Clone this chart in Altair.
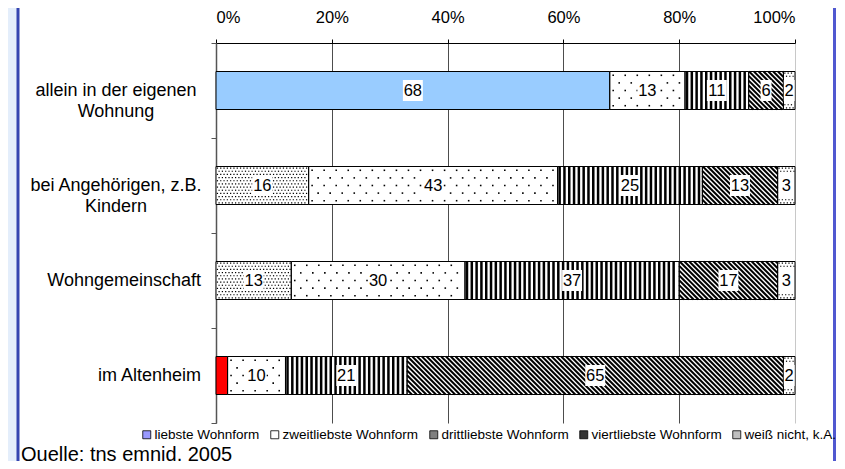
import altair as alt
import pandas as pd

# ---------------- data ----------------
categories = ["allein in der eigenen Wohnung", "bei Angehörigen, z.B. Kindern",
              "Wohngemeinschaft", "im Altenheim"]
category_labels = ["allein in der eigenen\nWohnung", "bei Angehörigen, z.B.\nKindern",
                   "Wohngemeinschaft", "im Altenheim"]
series = ["liebste Wohnform", "zweitliebste Wohnform", "drittliebste Wohnform",
          "viertliebste Wohnform", "weiß nicht, k.A."]
liebste = [68, 16, 13, 2]
zweitliebste = [13, 43, 30, 10]
drittliebste = [11, 25, 37, 21]
viertliebste = [6, 13, 17, 65]
weiss_nicht = [2, 3, 3, 2]
x_ticks = [0, 20, 40, 60, 80, 100]
y_ticks = [-0.5, 0.5, 1.5, 2.5, 3.5]
source = "Quelle: tns emnid, 2005"

# ---------------- styles ----------------
FONT = "Liberation Sans"
W, H = 579, 380
series_pattern = ["solid", "sparse", "vstripe", "diag", "edge"]
first_series_style = {0: ("solid", "#99CCFF"), 1: ("dense", "white"),
                      2: ("dense", "white"), 3: ("solid", "#FF0000")}
legend_colors = ["#9999FF", "#FFFFFF", "#7F7F7F", "#333333", "#BFBFBF"]
hidden_labels = {(0, 3)}
half_bar = 0.2
box2 = "M-0.95,-1L0.95,-1L0.95,1L-0.95,1Z"
box1 = "M-0.52,-1L0.52,-1L0.52,1L-0.52,1Z"

values = [liebste, zweitliebste, drittliebste, viertliebste, weiss_nicht]
recs = []
for r, cat in enumerate(categories):
    cum = 0
    for s, name in enumerate(series):
        v = values[s][r]
        pat, fill = series_pattern[s], "white"
        if s == 0:
            pat, fill = first_series_style[r]
        recs.append(dict(row=r, cat=cat, series=name, sidx=s, value=v,
                         start=cum, end=cum + v, mid=cum + v / 2,
                         pattern=pat, fillc=fill,
                         y0=r - half_bar, y1=r + half_bar,
                         showlab=(s, r) not in hidden_labels,
                         shp=box2 if v >= 10 else box1))
        cum += v
df = pd.DataFrame(recs)

ydf = pd.DataFrame({"row": list(range(len(categories))), "lab": category_labels})
ydf["multi"] = ydf["lab"].str.contains("\n")

xsc = alt.Scale(domain=[0, 100], nice=False, zero=True)
ysc = alt.Scale(domain=[-0.5, 3.5], reverse=True, nice=False, zero=False)

# diagonal run (in x units) for a 45 degree line across the bar height
h = (2 * half_bar * H / 4) / (W / 100)
STEP = 0.83

xaxis = alt.Axis(orient="top", values=x_ticks, labelExpr="datum.value + '%'",
                 grid=True,
                 gridColor={"condition": {"test": "datum.value == 100", "value": "#C8C8C8"},
                            "value": "#4D4D4D"},
                 domainColor="black", tickColor="black", tickSize=4,
                 labelFont=FONT, labelFontSize=16.5, labelColor="black",
                 labelPadding=14, title=None)
yaxis = alt.Axis(orient="left", values=y_ticks, labels=False, grid=False,
                 tickSize=5, tickColor="#555555", domainColor="#555555",
                 domainWidth=1.5, title=None)


def X(field):
    return alt.X(field, scale=xsc, axis=xaxis)


def Y(field):
    return alt.Y(field, scale=ysc, axis=yaxis)


base = alt.Chart(df)
one = pd.DataFrame({"a": [0]})

strip = alt.Chart(one).mark_rect(fill="#E4EEFB").encode(
    x=alt.value(-208), x2=alt.value(-199), y=alt.value(-35), y2=alt.value(420))
border_l = alt.Chart(one).mark_rule(color="#3545B0", strokeWidth=3).encode(
    x=alt.value(-198), y=alt.value(-35), y2=alt.value(420))
border_r = alt.Chart(one).mark_rule(color="#5058D0", strokeWidth=3).encode(
    x=alt.value(618.5), y=alt.value(-35), y2=alt.value(420))

fills = base.mark_rect().encode(
    x=X("start:Q"), x2="end:Q", y=Y("y0:Q"), y2="y1:Q",
    fill=alt.Fill("fillc:N", scale=None))

vstr = base.transform_filter("datum.pattern == 'vstripe'").transform_calculate(
    xs=f"sequence(datum.start + 0.35, datum.end - 0.2, {STEP})"
).transform_flatten(["xs"]).mark_rule(color="black", strokeWidth=2.5).encode(
    x=X("xs:Q"), y=Y("y0:Q"), y2="y1:Q")

diag = base.transform_filter("datum.pattern == 'diag'").transform_calculate(
    x0=f"sequence(datum.start - {h}, datum.end, {STEP})"
).transform_flatten(["x0"]).transform_calculate(
    xa="max(datum.x0, datum.start)", xb=f"min(datum.x0 + {h}, datum.end)"
).transform_filter("datum.xb > datum.xa + 0.05").transform_calculate(
    ya=f"datum.y0 + (datum.xa - datum.x0) / {h} * {2 * half_bar}",
    yb=f"datum.y0 + (datum.xb - datum.x0) / {h} * {2 * half_bar}"
).mark_rule(color="black", strokeWidth=2).encode(
    x=X("xa:Q"), x2="xb:Q", y=Y("ya:Q"), y2="yb:Q")

sparse = base.transform_filter("datum.pattern == 'sparse'").transform_calculate(
    k="sequence(0, 5)"
).transform_flatten(["k"]).transform_calculate(
    xs="sequence(datum.start + 0.6 + (datum.k % 2) * 1.04, datum.end - 0.3, 2.08)"
).transform_flatten(["xs"]).transform_calculate(
    yy=f"datum.y0 + (datum.k + 0.5) * {2 * half_bar / 5}"
).mark_square(size=2.5, color="black", opacity=1).encode(
    x=X("xs:Q"), y=Y("yy:Q"))

dense = base.transform_filter("datum.pattern == 'dense' || datum.pattern == 'edge'").transform_calculate(
    k="sequence(0, 12)"
).transform_flatten(["k"]).transform_filter(
    "datum.pattern == 'dense' || datum.k < 2 || datum.k > 9"
).transform_calculate(
    xs="sequence(datum.start + 0.25 + (datum.k % 2) * 0.285, datum.end - 0.15, 0.57)"
).transform_flatten(["xs"]).transform_calculate(
    yy=f"datum.y0 + (datum.k + 0.5) * {2 * half_bar / 12}"
).mark_square(size=1.5, color="black", opacity=1).encode(
    x=X("xs:Q"), y=Y("yy:Q"))

borders = base.mark_rect(fillOpacity=0, stroke="black", strokeWidth=1).encode(
    x=X("start:Q"), x2="end:Q", y=Y("y0:Q"), y2="y1:Q")

boxes = base.transform_filter("datum.showlab").mark_point(
    filled=True, fill="white", size=441, opacity=1, strokeWidth=0).encode(
    x=X("mid:Q"), y=Y("row:Q"),
    shape=alt.Shape("shp:N", scale=None, legend=None))

labels = base.transform_filter("datum.showlab").mark_text(
    font=FONT, fontSize=16.5, color="black", baseline="middle", align="center").encode(
    x=X("mid:Q"), y=Y("row:Q"), text="value:Q")

ylab_multi = alt.Chart(ydf).transform_filter("datum.multi").mark_text(
    font=FONT, fontSize=18, lineHeight=21, lineBreak="\n", align="center",
    baseline="middle", color="black").encode(
    x=alt.value(-100), y=Y("row:Q"), text="lab:N")
ylab_single = alt.Chart(ydf).transform_filter("!datum.multi").mark_text(
    font=FONT, fontSize=18, align="right", baseline="middle", color="black").encode(
    x=alt.value(-15), y=Y("row:Q"), text="lab:N")

quelle = alt.Chart(pd.DataFrame({"t": [source]})).mark_text(
    font=FONT, fontSize=20, align="left", baseline="alphabetic", color="black").encode(
    x=alt.value(-195), y=alt.value(417.5), text="t:N")

legend_layer = base.mark_square(opacity=0, size=10).encode(
    x=X("mid:Q"), y=Y("row:Q"),
    color=alt.Color("series:N", sort=series,
                    scale=alt.Scale(domain=series, range=legend_colors),
                    legend=alt.Legend(orient="none", legendX=-76, legendY=385,
                                      direction="horizontal", title=None,
                                      symbolType="square", symbolSize=64,
                                      symbolStrokeColor="black", symbolStrokeWidth=0.8,
                                      symbolOpacity=1, labelFont=FONT,
                                      labelFontSize=13.5, labelColor="black",
                                      labelOffset=1, columnPadding=8, padding=0,
                                      gridAlign="none", labelLimit=0)))

chart = alt.layer(strip, border_l, border_r, fills, vstr, diag, sparse, dense, borders,
                  boxes, labels, ylab_multi, ylab_single, quelle, legend_layer).properties(
    width=W, height=H,
    padding={"left": 208, "top": 35, "right": 42, "bottom": 38},
    autosize=alt.AutoSizeParams(type="none"),
    background="white").configure_view(stroke=None)

chart.save("out.html", embed_options={"renderer": "svg", "actions": False})
